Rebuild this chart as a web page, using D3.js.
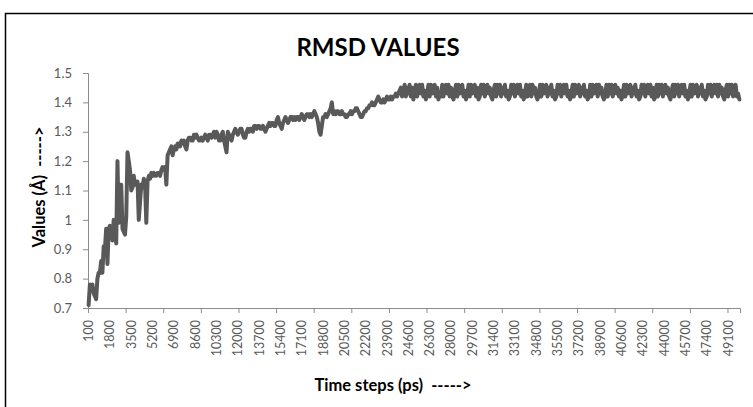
<!DOCTYPE html>
<html>
<head>
<meta charset="utf-8">
<script src="https://cdn.jsdelivr.net/npm/d3@7"></script>
<style>
  html, body { margin: 0; padding: 0; background: #fff; }
  svg { display: block; font-family: Lato, "Open Sans", sans-serif; }
</style>
</head>
<body>
<svg id="chart" width="753" height="407"></svg>
<script>
// RMSD of the trajectory, one value per saved frame (Å)
const rmsdRise = [
  0.71,0.78,0.76,0.78,0.75,0.74,0.73,0.80,0.82,0.82,
  0.86,0.82,0.91,0.90,0.97,0.85,0.97,0.98,0.97,0.93,
  1.00,0.99,0.92,1.20,0.99,1.00,1.12,0.97,0.96,0.95,
  1.01,1.23,1.20,1.17,1.10,1.11,1.15,1.12,1.12,1.13,
  1.00,1.06,1.12,1.11,1.14,1.12,0.99,1.13,1.15,1.14,
  1.16,1.15,1.16,1.15,1.15,1.16,1.16,1.15,1.17,1.18,
  1.17,1.18,1.12,1.22,1.23,1.24,1.25,1.22,1.24,1.25,
  1.24,1.26,1.26,1.25,1.27,1.26,1.27,1.25,1.24,1.27,
  1.28,1.28,1.27,1.27,1.29,1.28,1.29,1.28,1.27,1.27,
  1.28,1.27,1.28,1.29,1.28,1.27,1.29,1.29,1.28,1.29,
  1.30,1.28,1.30,1.29,1.27,1.27,1.29,1.30,1.27,1.25,
  1.23,1.30,1.29,1.28,1.27,1.29,1.30,1.31,1.30,1.29,
  1.30,1.31,1.31,1.29,1.28,1.28,1.30,1.31,1.30,1.31,
  1.31,1.30,1.32,1.32,1.31,1.32,1.32,1.31,1.31,1.32,
  1.31,1.30,1.31,1.32,1.33,1.32,1.33,1.33,1.32,1.32,
  1.34,1.35,1.33,1.32,1.31,1.33,1.34,1.35,1.34,1.33,
  1.34,1.35,1.35,1.34,1.35,1.34,1.35,1.35,1.34,1.35,
  1.36,1.35,1.34,1.35,1.36,1.36,1.35,1.36,1.35,1.36,
  1.37,1.36,1.35,1.33,1.30,1.29,1.32,1.35,1.35,1.36,
  1.35,1.36,1.37,1.38,1.40,1.36,1.37,1.36,1.37,1.37,
  1.36,1.36,1.37,1.36,1.36,1.35,1.35,1.36,1.36,1.37,
  1.36,1.37,1.37,1.38,1.38,1.37,1.36,1.35,1.35,1.36,
  1.37,1.37,1.38,1.38,1.39,1.39,1.40,1.39,1.39,1.40,
  1.41,1.42,1.41,1.40,1.40,1.41,1.40,1.41,1.42,1.41,
  1.41,1.42,1.41,1.42,1.42,1.43,1.42,1.43,1.44,1.45,
  1.42,1.43
];
const rmsdPlateau = [
  1.46,1.42,1.45,1.43,1.46,1.42,1.45,1.41,1.44,1.46,1.42,1.45,1.46,1.43,1.46,1.42,1.44,1.41,1.43,1.46,
  1.42,1.46,1.43,1.45,1.46,1.42,1.45,1.41,1.43,1.42,1.46,1.42,1.45,1.46,1.43,1.46,1.42,1.45,1.42,1.41,
  1.44,1.46,1.42,1.46,1.43,1.45,1.46,1.42,1.44,1.41,1.43,1.46,1.42,1.46,1.43,1.45,1.46,1.42,1.45,1.41,
  1.42,1.46,1.43,1.46,1.42,1.45,1.46,1.43,1.45,1.42,1.41,1.44,1.46,1.42,1.46,1.43,1.46,1.42,1.45,1.43,
  1.46,1.42,1.44,1.41,1.42,1.46,1.43,1.46,1.42,1.45,1.46,1.43,1.46,1.42,1.44,1.41,1.43,1.46,1.42,1.45,
  1.46,1.42,1.46,1.43,1.45,1.42,1.41,1.43,1.46,1.42,1.46,1.43,1.45,1.46,1.42,1.45,1.43,1.46,1.42,1.44,
  1.41,1.42,1.46,1.43,1.46,1.42,1.45,1.46,1.43,1.46,1.42,1.44,1.41,1.43,1.46,1.42,1.46,1.43,1.45,1.46,
  1.42,1.45,1.43,1.46,1.42,1.44,1.41,1.42,1.46,1.42,1.46,1.43,1.45,1.46,1.42,1.46,1.43,1.45,1.42,1.41,
  1.43,1.46,1.42,1.46,1.43,1.46,1.42,1.45,1.46,1.43,1.45,1.42,1.44,1.41,1.43,1.46,1.42,1.46,1.43,1.45,
  1.46,1.42,1.45,1.43,1.46,1.42,1.44,1.41,1.42,1.46,1.43,1.46,1.42,1.45,1.46,1.43,1.46,1.42,1.45,1.41,
  1.42,1.46,1.42,1.46,1.43,1.46,1.42,1.45,1.46,1.43,1.45,1.42,1.41,1.44,1.46,1.42,1.46,1.43,1.46,1.42,
  1.45,1.46,1.43,1.46,1.42,1.44,1.41,1.43,1.46,1.42,1.46,1.43,1.45,1.46,1.42,1.45,1.43,1.46,1.42,1.44,
  1.41,1.42,1.46,1.43,1.46,1.42,1.45,1.46,1.43,1.46,1.42,1.46,1.43,1.45,1.42,1.41,1.44,1.46,1.42,1.46,
  1.43,1.46,1.42,1.45,1.46,1.42,1.43,1.41
];
const rmsd = rmsdRise.concat(rmsdPlateau);

// Time-step labels shown along the x axis (every 17th frame)
const timeLabels = [
  "100","1800","3500","5200","6900","8600","10300","12000","13700","15400",
  "17100","18800","20500","22200","23900","24600","26300","28000","29700","31400",
  "33100","34800","35500","37200","38900","40600","42300","44000","45700","47400","49100"
];
const labelEvery = 17;
const tickEvery = 30;
const yTicks = [0.7, 0.8, 0.9, 1.0, 1.1, 1.2, 1.3, 1.4, 1.5];

const svg = d3.select("#chart");
const plotLeft = 88, plotRight = 740, plotTop = 73, plotBottom = 308;
const textColor = "#5a5a5a", axisColor = "#8c8c8c";

// chart frame
svg.append("rect")
  .attr("x", 5.5).attr("y", 13.5).attr("width", 900).attr("height", 600)
  .attr("fill", "none").attr("stroke", "#000").attr("stroke-width", 1.5);

const x = d3.scaleBand().domain(d3.range(rmsd.length)).range([plotLeft, plotRight]);
const xEdge = d3.scaleLinear().domain([0, rmsd.length]).range([plotLeft, plotRight]);
const y = d3.scaleLinear().domain([0.7, 1.5]).range([plotBottom, plotTop]);

// y axis
const yAxis = svg.append("g")
  .attr("transform", `translate(${plotLeft},0)`)
  .call(d3.axisLeft(y).tickValues(yTicks).tickSize(5).tickPadding(11)
    .tickFormat(d => String(+d.toFixed(1))));
yAxis.select(".domain").attr("stroke", axisColor);
yAxis.selectAll(".tick line").attr("stroke", axisColor);
yAxis.selectAll(".tick text").attr("fill", textColor)
  .style("font-size", "13px").style("font-family", "Lato, sans-serif");

// x axis: tick marks on category edges
const xAxis = svg.append("g")
  .attr("transform", `translate(0,${plotBottom})`)
  .call(d3.axisBottom(xEdge).tickValues(d3.range(0, rmsd.length, tickEvery))
    .tickSize(5).tickFormat(""));
xAxis.select(".domain").attr("stroke", axisColor);
xAxis.selectAll(".tick line").attr("stroke", axisColor);

// x labels, rotated, centred on their frame
svg.append("g").selectAll("text")
  .data(timeLabels)
  .join("text")
  .attr("transform", (d, i) => {
    const cx = x(i * labelEvery) + x.bandwidth() / 2;
    return `translate(${cx + 4.5},${plotBottom + 12}) rotate(-90)`;
  })
  .attr("text-anchor", "end")
  .attr("fill", textColor)
  .style("font-size", "12.5px")
  .text(d => d);

// RMSD trace
const line = d3.line()
  .x((d, i) => x(i) + x.bandwidth() / 2)
  .y(d => y(d));
svg.append("path")
  .datum(rmsd)
  .attr("d", line)
  .attr("fill", "none")
  .attr("stroke", "#595959")
  .attr("stroke-width", 4)
  .attr("stroke-linejoin", "round")
  .attr("stroke-linecap", "round");

// titles
svg.append("text")
  .attr("x", 378).attr("y", 56)
  .attr("text-anchor", "middle")
  .style("font-size", "24px").style("font-weight", "bold")
  .attr("fill", "#000")
  .text("RMSD VALUES");

svg.append("text")
  .attr("x", 393).attr("y", 391)
  .attr("text-anchor", "middle")
  .style("font-size", "16.5px").style("font-weight", "bold")
  .attr("fill", "#000")
  .attr("xml:space", "preserve")
  .text("Time steps (ps)  ----->");

svg.append("text")
  .attr("transform", "translate(45,187) rotate(-90)")
  .attr("text-anchor", "middle")
  .style("font-size", "16.5px").style("font-weight", "bold")
  .attr("fill", "#000")
  .attr("xml:space", "preserve")
  .text("Values (Å)  ----->");
</script>
</body>
</html>
